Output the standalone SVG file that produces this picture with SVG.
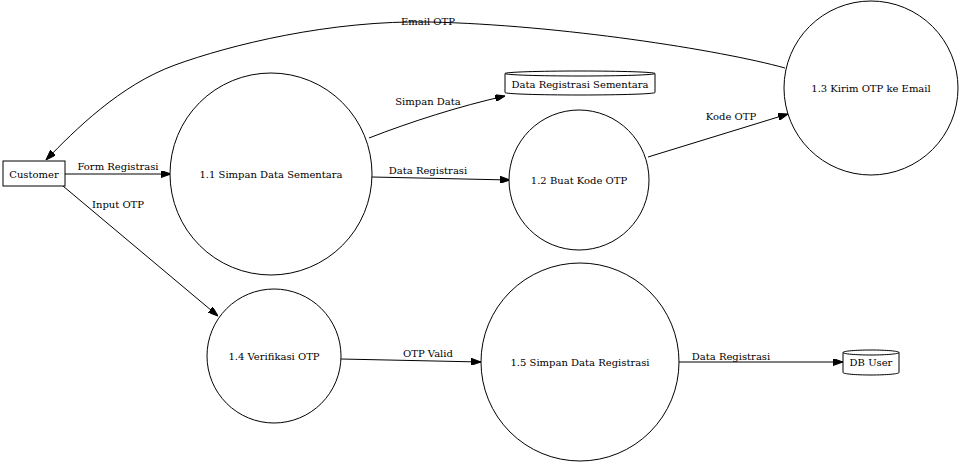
<svg xmlns="http://www.w3.org/2000/svg" width="960" height="465" viewBox="0 0 960 465">
<style>
text{font-family:"DejaVu Serif","Liberation Serif",serif;font-size:10px;fill:#000;text-anchor:middle}
.n{fill:#fff;stroke:#000;stroke-width:1}
.e{fill:none;stroke:#000;stroke-width:1}
</style>
<defs>
<marker id="ah" markerWidth="10" markerHeight="7" refX="10" refY="3.5" orient="auto" markerUnits="userSpaceOnUse">
<path d="M0,0 L10,3.5 L0,7 z" fill="#000" stroke="#000" stroke-width="1"/>
</marker>
</defs>
<rect width="960" height="465" fill="#fff"/>
<g id="connectors">
<path class="e" d="M65,174 L171,174" marker-end="url(#ah)"/>
<text x="118" y="170">Form Registrasi</text>
<path class="e" d="M63,186 L218,316" marker-end="url(#ah)"/>
<text x="118" y="208">Input OTP</text>
<path class="e" d="M369,138 C410,122 460,106 505,96" marker-end="url(#ah)"/>
<text x="428" y="105">Simpan Data</text>
<path class="e" d="M372,177 L510,180" marker-end="url(#ah)"/>
<text x="428" y="174">Data Registrasi</text>
<path class="e" d="M648,157 L788,114" marker-end="url(#ah)"/>
<text x="731" y="120">Kode OTP</text>
<path class="e" d="M785,68 C720,50 560,25 430,22 C330,20 230,45 175,65 C120,85 75,130 46,160" marker-end="url(#ah)"/>
<text x="428" y="25">Email OTP</text>
<path class="e" d="M341,359 L481,362" marker-end="url(#ah)"/>
<text x="428" y="357">OTP Valid</text>
<path class="e" d="M679,362 L843,362" marker-end="url(#ah)"/>
<text x="731" y="360">Data Registrasi</text>
</g>
<g id="customer">
<rect class="n" x="3" y="161" width="62" height="25"/>
<text x="34" y="177.5">Customer</text>
</g>
<g id="p11">
<circle class="n" cx="271" cy="174" r="101"/>
<text x="271" y="177.5">1.1 Simpan Data Sementara</text>
</g>
<g id="p12">
<circle class="n" cx="579" cy="180" r="70"/>
<text x="579" y="183.5">1.2 Buat Kode OTP</text>
</g>
<g id="p13">
<circle class="n" cx="871" cy="88" r="87"/>
<text x="871" y="91.5">1.3 Kirim OTP ke Email</text>
</g>
<g id="p14">
<circle class="n" cx="274" cy="356" r="67"/>
<text x="274" y="359.5">1.4 Verifikasi OTP</text>
</g>
<g id="p15">
<circle class="n" cx="580" cy="362" r="99"/>
<text x="580" y="365.5">1.5 Simpan Data Registrasi</text>
</g>
<g id="ds_sementara">
<path class="n" d="M505,73.5 C505,72.1 538.6,71 580,71 C621.4,71 655,72.1 655,73.5 L655,92.5 C655,93.9 621.4,95 580,95 C538.6,95 505,93.9 505,92.5 Z"/>
<path class="e" d="M505,73.5 C505,74.9 538.6,76 580,76 C621.4,76 655,74.9 655,73.5"/>
<text x="580" y="88">Data Registrasi Sementara</text>
</g>
<g id="ds_dbuser">
<path class="n" d="M843,352.5 C843,351.1 855.5,350 871,350 C886.5,350 899,351.1 899,352.5 L899,372.5 C899,373.9 886.5,375 871,375 C855.5,375 843,373.9 843,372.5 Z"/>
<path class="e" d="M843,352.5 C843,353.9 855.5,355 871,355 C886.5,355 899,353.9 899,352.5"/>
<text x="871" y="366">DB User</text>
</g>
</svg>
